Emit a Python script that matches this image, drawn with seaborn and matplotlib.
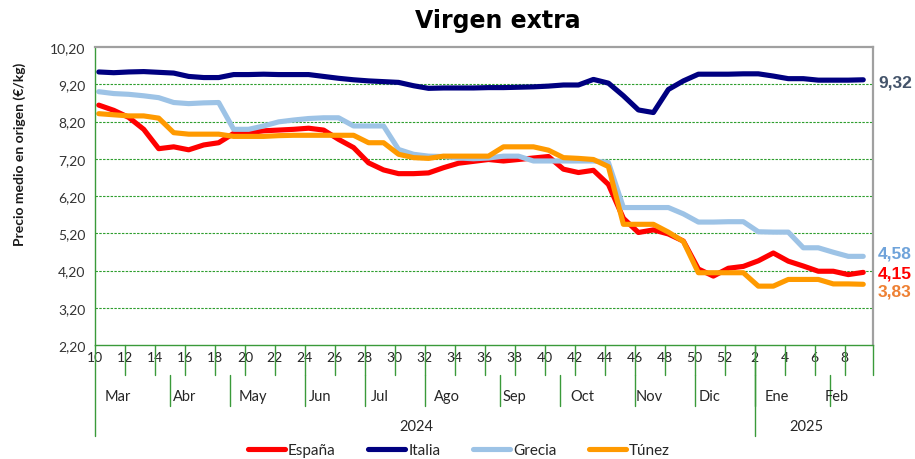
import numpy as np
import pandas as pd
import matplotlib
matplotlib.use("Agg")
import matplotlib.pyplot as plt
from matplotlib.lines import Line2D
import seaborn as sns

# ---------------- data ----------------
weeks = list(range(10, 53)) + list(range(1, 10))
months = ['Mar', 'Abr', 'May', 'Jun', 'Jul', 'Ago', 'Sep', 'Oct', 'Nov', 'Dic', 'Ene', 'Feb']
month_weeks = [5, 4, 5, 4, 4, 5, 4, 5, 4, 4, 5, 3]
years = ['2024', '2025']
year_weeks = [44, 8]

espana = [8.64, 8.50, 8.31, 7.99, 7.47, 7.52, 7.44, 7.57, 7.63, 7.88, 7.90, 7.95, 7.97,
          7.99, 8.02, 7.97, 7.72, 7.50, 7.09, 6.90, 6.80, 6.80, 6.82, 6.96, 7.08, 7.13,
          7.18, 7.14, 7.18, 7.22, 7.26, 6.92, 6.83, 6.89, 6.51, 5.60, 5.22, 5.29, 5.18,
          4.99, 4.24, 4.05, 4.26, 4.31, 4.46, 4.67, 4.45, 4.32, 4.18, 4.18, 4.09, 4.15]
italia = [9.53, 9.51, 9.53, 9.54, 9.52, 9.50, 9.41, 9.38, 9.38, 9.46, 9.46, 9.47, 9.46,
          9.46, 9.46, 9.41, 9.36, 9.32, 9.29, 9.27, 9.25, 9.16, 9.09, 9.10, 9.10, 9.10,
          9.11, 9.11, 9.12, 9.13, 9.15, 9.18, 9.18, 9.33, 9.23, 8.89, 8.51, 8.44, 9.06,
          9.29, 9.47, 9.47, 9.47, 9.48, 9.48, 9.42, 9.35, 9.35, 9.31, 9.31, 9.31, 9.32]
grecia = [9.00, 8.95, 8.93, 8.89, 8.84, 8.71, 8.68, 8.70, 8.71, 7.99, 7.99, 8.08, 8.19,
          8.24, 8.28, 8.30, 8.30, 8.08, 8.08, 8.08, 7.45, 7.32, 7.27, 7.26, 7.22, 7.20,
          7.22, 7.27, 7.27, 7.14, 7.14, 7.14, 7.14, 7.14, 7.10, 5.89, 5.89, 5.89, 5.89,
          5.72, 5.50, 5.50, 5.51, 5.51, 5.24, 5.23, 5.23, 4.81, 4.81, 4.69, 4.58, 4.58]
tunez = [8.41, 8.38, 8.35, 8.35, 8.29, 7.90, 7.86, 7.86, 7.86, 7.80, 7.80, 7.80, 7.82,
         7.83, 7.83, 7.83, 7.83, 7.83, 7.63, 7.63, 7.32, 7.23, 7.21, 7.27, 7.27, 7.27,
         7.27, 7.52, 7.52, 7.52, 7.43, 7.23, 7.21, 7.18, 6.99, 5.44, 5.44, 5.44, 5.23,
         4.98, 4.14, 4.14, 4.14, 4.14, 3.78, 3.78, 3.96, 3.96, 3.96, 3.84, 3.84, 3.83]

series_names = ['España', 'Italia', 'Grecia', 'Túnez']
series_vals = [espana, italia, grecia, tunez]
colors = {'España': '#FF0000', 'Italia': '#000080', 'Grecia': '#9DC3E6', 'Túnez': '#FF9A00'}
label_colors = {'España': '#FF0000', 'Italia': '#44546A', 'Grecia': '#6FA3DA', 'Túnez': '#EE8033'}
yticks = [2.2, 3.2, 4.2, 5.2, 6.2, 7.2, 8.2, 9.2, 10.2]

# ---------------- layout ----------------
W, H = 915, 460
L, R, T, B = 95, 873, 48, 346
GREEN = '#3A9A3A'
OFF = -0.25  # category tick offset
end_label_y = {'Italia': 9.27, 'Grecia': 4.66, 'España': 4.14, 'Túnez': 3.64}

n = len(weeks)
idx = np.arange(n)
df = pd.DataFrame({
    'idx': np.tile(idx, len(series_names)),
    'valor': np.concatenate(series_vals),
    'pais': np.repeat(series_names, n),
})

sns.set_style('white')
plt.rcParams['font.family'] = ['Lato', 'DejaVu Sans']
plt.rcParams['lines.solid_joinstyle'] = 'round'
plt.rcParams['lines.solid_capstyle'] = 'round'

fig = plt.figure(figsize=(W / 100, H / 100), dpi=100)
ax = fig.add_axes([L / W, 1 - B / H, (R - L) / W, (B - T) / H])

sns.lineplot(data=df, x='idx', y='valor', hue='pais', hue_order=series_names,
             palette=colors, linewidth=3.7, legend=False, sort=False, ax=ax)

ax.set_xlim(-0.2, 51.65)
ax.set_ylim(2.2, 10.2)
ax.set_yticks(yticks)
ax.set_yticklabels([f'{v:.2f}'.replace('.', ',') for v in yticks])
ax.tick_params(axis='y', direction='out', length=4, width=1, color=GREEN,
               labelsize=10, labelcolor='#333333', pad=3)

# grid
for v in yticks[1:-1]:
    ax.axhline(v, color='#2E9E2E', lw=0.8, ls=(0, (2.2, 1.2)), zorder=0.5)

for s in ['left', 'bottom']:
    ax.spines[s].set_color(GREEN)
    ax.spines[s].set_linewidth(1)
for s in ['top', 'right']:
    ax.spines[s].set_color('#A0A0A0')
    ax.spines[s].set_linewidth(1.6)

# week tick labels
tick_pos = [i + OFF for i in range(0, n, 2)]
ax.set_xticks(tick_pos)
ax.set_xticklabels([str(weeks[i]) for i in range(0, n, 2)])
ax.tick_params(axis='x', length=0, labelsize=10, labelcolor='#262626', pad=4)
ax.set_xlabel('')
ax.set_ylabel('')

trans = ax.get_xaxis_transform()
ph = B - T
d1, d2, d3 = -30 / ph, -61 / ph, -91 / ph
# week tick marks
for p in tick_pos[1:] + [ax.get_xlim()[1]]:
    ax.plot([p, p], [0, d1], color=GREEN, lw=1, transform=trans, clip_on=False)
# left edge extension
ax.plot([ax.get_xlim()[0]] * 2, [0, d3], color=GREEN, lw=1, transform=trans, clip_on=False)

# month groups
start = 0
for name, cnt in zip(months, month_weeks):
    if start > 0:
        ax.plot([start + OFF] * 2, [d1, d2], color=GREEN, lw=1, transform=trans, clip_on=False)
    center = start + (cnt - 1) / 2 - 0.75
    ax.text(center, -51 / ph, name, transform=trans, ha='center', va='center',
            fontsize=10.5, color='#262626')
    start += cnt

# year groups
start = 0
for name, cnt in zip(years, year_weeks):
    if start > 0:
        ax.plot([start + OFF] * 2, [0, d3], color=GREEN, lw=1, transform=trans, clip_on=False)
    center = start + (cnt - 1) / 2 - 0.3
    ax.text(center, -81 / ph, name, transform=trans, ha='center', va='center',
            fontsize=10.5, color='#262626')
    start += cnt

# end value labels
ytrans = ax.get_yaxis_transform()
for name, vals in zip(series_names, series_vals):
    ax.text(1 + 5 / (R - L), end_label_y[name], f'{vals[-1]:.2f}'.replace('.', ','),
            transform=ytrans, ha='left', va='center', fontsize=12.5, fontweight='bold',
            color=label_colors[name], family=['Liberation Sans', 'DejaVu Sans'])

# title and y label
fig.text(498 / W, 1 - 21 / H, 'Virgen extra', ha='center', va='center',
         fontsize=17, fontweight='bold', color='black', family=['DejaVu Sans'])
fig.text(20 / W, 1 - 154 / H, 'Precio medio en origen (€/kg)', rotation=90,
         ha='center', va='center', fontsize=10, fontweight='bold', color='#1a1a1a')

# legend
handles = [Line2D([0], [0], color=colors[nm], lw=3.7) for nm in series_names]
fig.legend(handles, series_names, loc='center', bbox_to_anchor=(459 / W, 1 - 451 / H),
           ncol=4, frameon=False, fontsize=11, handlelength=2.4, handletextpad=0.2,
           columnspacing=2.15, labelcolor='#262626')

fig.savefig('out.png', dpi=100)
